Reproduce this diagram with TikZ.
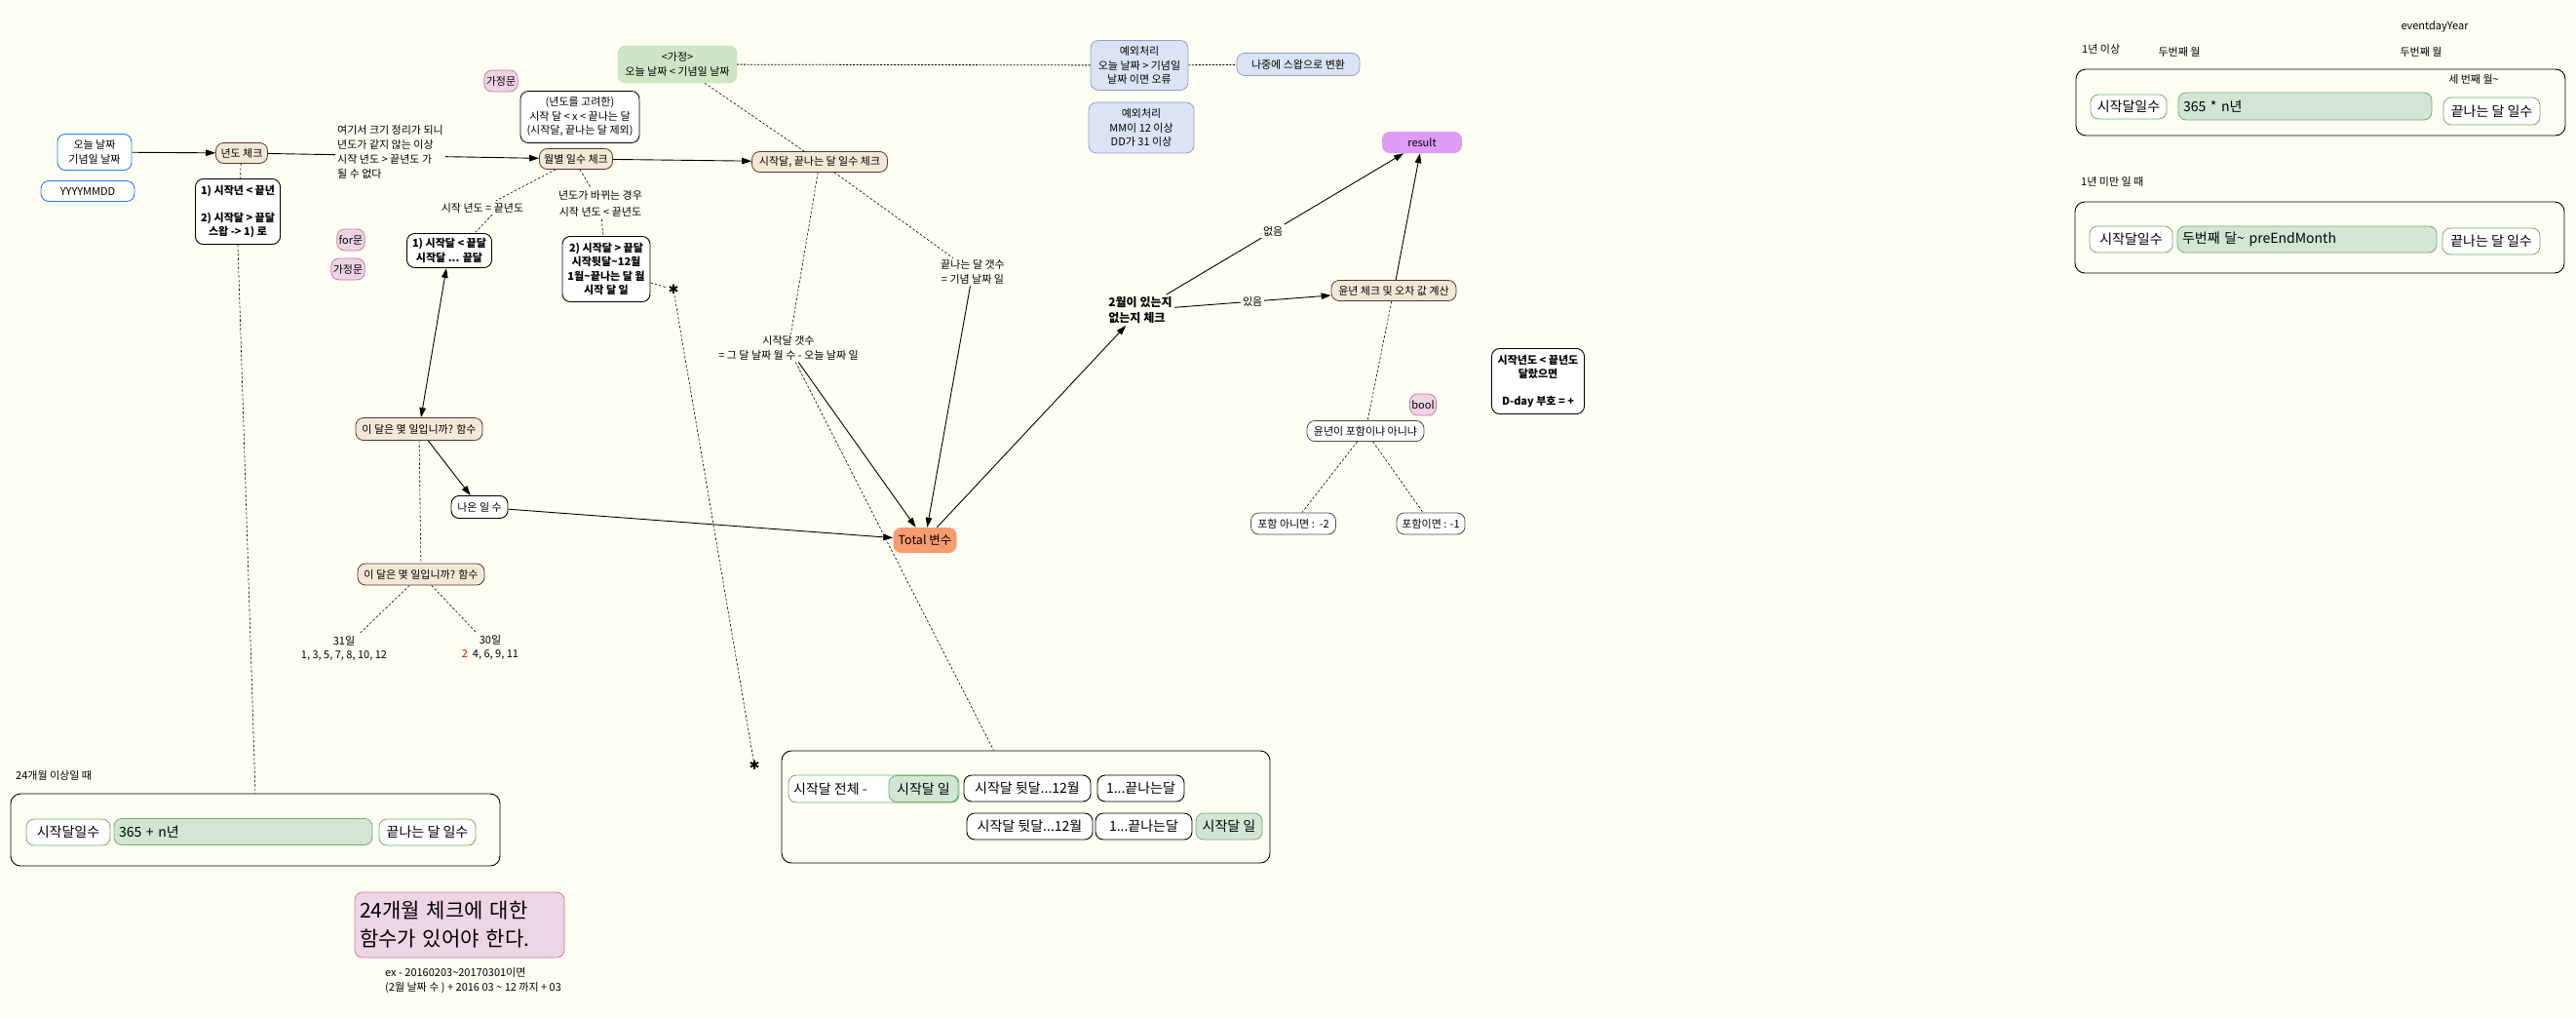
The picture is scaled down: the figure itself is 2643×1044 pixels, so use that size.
\documentclass[tikz,border=0pt]{standalone}
\usepackage{fontspec}
\setmainfont{Noto Sans CJK KR}
\newfontfamily\dejavu{DejaVu Sans}
\usetikzlibrary{arrows.meta,calc}
\pgfdeclarelayer{back}
\pgfdeclarelayer{edges}
\pgfsetlayers{back,edges,main}
\definecolor{bgc}{HTML}{FFFEF2}
\definecolor{beigef}{HTML}{F2E8D6}
\definecolor{beiged}{HTML}{5E3535}
\definecolor{pinkf}{HTML}{EED5E5}
\definecolor{pinkd}{HTML}{CC79A7}
\definecolor{greenf}{HTML}{CFE6C4}
\definecolor{greend}{HTML}{B9D9AB}
\definecolor{ggf}{HTML}{D3E6D6}
\definecolor{ggd}{HTML}{6FAE6F}
\definecolor{bluef}{HTML}{DCE3F4}
\definecolor{blued}{HTML}{8C9ED4}
\definecolor{brightb}{HTML}{2A7DF4}
\definecolor{purp}{HTML}{DF9CF7}
\definecolor{orng}{HTML}{F99B70}
\newcommand\myfs{\fontsize{11}{14.5}\selectfont}
\newcommand\mybig{\fontsize{14}{17}\selectfont}
\newcommand\tl{\textasciitilde{}}
\begin{document}
\begin{tikzpicture}[x=1pt,y=-1pt,
  every node/.style={font=\myfs, inner sep=2pt, align=center},
  beige/.style={draw=beiged, fill=beigef, rounded corners=8pt, line width=0.8pt, minimum height=21pt},
  wbox/.style={draw=black, fill=white, rounded corners=8pt, line width=0.9pt},
  gbox/.style={draw=black!70, fill=white, rounded corners=8pt, line width=0.8pt, minimum height=22pt},
  bluebox/.style={draw=brightb, fill=white, rounded corners=8pt, line width=0.9pt},
  pinkb/.style={draw=pinkd, fill=pinkf, rounded corners=8pt, line width=0.8pt, minimum height=22pt},
  exbox/.style={draw=blued, fill=bluef, rounded corners=8pt, line width=0.8pt},
  gwbox/.style={draw=ggd, fill=white, rounded corners=8pt, line width=0.8pt, font=\mybig, minimum height=27pt},
  gfbox/.style={draw=ggd, fill=ggf, rounded corners=8pt, line width=0.8pt, font=\mybig, minimum height=27pt},
  bigbox/.style={draw=black, rounded corners=10pt, line width=0.9pt},
  boldt/.style={font=\myfs\bfseries},
  lbl/.style={font=\myfs},
  arr/.style={-{Triangle[length=10pt,width=6.5pt]}, line width=0.9pt},
  darr/.style={{Triangle[length=10pt,width=6.5pt]}-{Triangle[length=10pt,width=6.5pt]}, line width=0.9pt},
  dsh/.style={dash pattern=on 2.5pt off 2pt, line width=0.6pt},
  dots/.style={dash pattern=on 2pt off 1.5pt, line width=0.8pt},
  astk/.style={font=\dejavu\fontsize{13}{13}\selectfont, inner sep=1pt}
]
\begin{pgfonlayer}{back}
\path[use as bounding box, fill=bgc] (0,0) rectangle (2643,1044);
\end{pgfonlayer}

% ---------- left part ----------
\node[bluebox, minimum width=76pt, minimum height=37pt] (today) at (97,156) {오늘 날짜\\기념일 날짜};
\node[bluebox, minimum width=96pt, minimum height=21pt] (fmt) at (90,196) {YYYYMMDD};
\node[beige, minimum width=53pt] (yc) at (248,157) {년도 체크};
\node[wbox, boldt, minimum width=87pt, minimum height=67pt] (yrule) at (244,217) {1) 시작년 < 끝년\\[13pt]2) 시작달 > 끝달\\스왑 -> 1) 로};
\node[lbl, anchor=west, align=left, fill=bgc, font=\fontsize{11}{15}\selectfont] (note) at (344,156) {여기서 크기 정리가 되니\\년도가 같지 않는 이상\\시작 년도 > 끝년도 가\\될 수 없다};
\node[pinkb] (p1) at (360,246) {for문};
\node[pinkb] (p2) at (357,276) {가정문};
\node[pinkb] (p3) at (514,83) {가정문};

\node[wbox, minimum width=122pt, minimum height=53pt, line width=0.8pt] (xrange) at (595,120) {(년도를 고려한)\\시작 달 < x < 끝나는 달\\(시작달, 끝나는 달 제외)};
\node[beige, minimum width=75pt] (mc) at (591,163) {월별 일수 체크};
\node[draw=greend, fill=greenf, rounded corners=8pt, minimum width=122pt, minimum height=38pt] (assume) at (695,66) {<가정>\\오늘 날짜 < 기념일 날짜};
\node[beige, minimum width=139pt] (sec) at (841,166) {시작달, 끝나는 달 일수 체크};
\node[exbox, minimum width=100pt, minimum height=51pt] (ex1) at (1169,67) {예외처리\\오늘 날짜 > 기념일\\날짜 이면 오류};
\node[exbox, minimum width=126pt, minimum height=23pt] (later) at (1332,66) {나중에 스왑으로 변환};
\node[exbox, minimum width=108pt, minimum height=52pt] (ex2) at (1171,131) {예외처리\\MM이 12 이상\\DD가 31 이상};

\node[lbl] (leq) at (495,213) {시작 년도 = 끝년도};
\node[lbl] (lchg) at (616,209) {년도가 바뀌는 경우\\[3pt]시작 년도 < 끝년도};
\node[wbox, boldt, minimum width=87pt, minimum height=35pt] (m1) at (461,257) {1) 시작달 < 끝달\\시작달 ... 끝달};
\node[wbox, boldt, minimum width=90pt, minimum height=67pt] (m2) at (622,276) {2) 시작달 > 끝달\\시작뒷달\tl 12월\\1월\tl 끝나는 달 월\\시작 달 일};
\node[astk] (s1) at (691,297) {✱};
\node[astk] (s2) at (774,785) {✱};

\node[lbl] (scnt) at (809,357) {시작달 갯수\\= 그 달 날짜 월 수 - 오늘 날짜 일};
\node[lbl] (ecnt) at (998,279) {끝나는 달 갯수\\= 기념 날짜 일};

\node[beige, minimum width=130pt, minimum height=23pt] (f1) at (430,440) {이 달은 몇 일입니까? 함수};
\node[wbox, minimum width=58pt, minimum height=23pt] (days) at (492,520) {나온 일 수};
\node[beige, minimum width=130pt, minimum height=22pt] (f2) at (432,589) {이 달은 몇 일입니까? 함수};
\node[lbl] (d31) at (353,665) {31일\\1, 3, 5, 7, 8, 10, 12};
\node[lbl] (d30) at (503,664) {30일\\\textcolor{red}{2}\ \ 4, 6, 9, 11};

\node[fill=orng, rounded corners=8pt, minimum width=65pt, minimum height=26pt, font=\fontsize{12.5}{15}\selectfont] (total) at (949,554) {Total 변수};

% ---------- right middle ----------
\node[font=\fontsize{12}{16}\selectfont\bfseries, align=left] (feb) at (1170,318) {2월이 있는지\\없는지 체크};
\node[beige, minimum width=128pt] (leap) at (1430,298) {윤년 체크 및 오차 값 계산};
\node[fill=purp, rounded corners=8pt, minimum width=82pt, minimum height=22pt] (result) at (1459,146) {result};
\node[gbox, minimum width=120pt, minimum height=21pt] (incl) at (1401,442) {윤년이 포함이냐 아니냐};
\node[pinkb] (bool) at (1460,415) {bool};
\node[wbox, boldt, minimum width=95pt, minimum height=67pt] (dday) at (1578,391) {시작년도 < 끝년도\\달랐으면\\[13pt]D-day 부호 = +};
\node[gbox, minimum width=87pt] (nm2) at (1327,537) {포함 아니면 :\ \ -2};
\node[gbox, minimum width=70pt] (nm1) at (1468,537) {포함이면 : -1};

% ---------- bottom left ----------
\node[lbl, anchor=west] (t24) at (14,795) {24개월 이상일 때};
\node[bigbox, minimum width=502pt, minimum height=74pt] (b24) at (262,851) {};
\node[gwbox, minimum width=86pt] (b24a) at (70,853.5) {시작달일수};
\node[gfbox, text width=255pt, inner sep=5pt, align=left] (b24b) at (249.5,853) {365 + n년};
\node[gwbox, minimum width=99pt] (b24c) at (438.5,853.5) {끝나는 달 일수};

\node[pinkb, text width=205pt, inner sep=5pt, align=left, minimum height=67pt, font=\fontsize{21}{29}\selectfont] (need) at (471.5,948.5) {24개월 체크에 대한\\함수가 있어야 한다.};
\node[lbl, anchor=north west, align=left, font=\fontsize{11}{15}\selectfont] (exm) at (393,990) {ex - 20160203\tl 20170301이면\\(2월 날짜 수 ) + 2016 03 \tl\ 12 까지 + 03};

% ---------- bottom middle box ----------
\node[bigbox, minimum width=501pt, minimum height=115pt] (bx) at (1052.5,827.5) {};
\node[gwbox, minimum width=175pt, minimum height=28pt] (r1a) at (896.5,809) {};
\node[anchor=west, font=\mybig] (r1t) at (812,809) {시작달 전체 -};
\node[gfbox, minimum width=71pt] (r1b) at (947.5,809) {시작달 일};
\node[wbox, font=\mybig, minimum width=130pt, minimum height=27pt] (r1c) at (1054,808.5) {시작달 뒷달...12월};
\node[wbox, font=\mybig, minimum width=89pt, minimum height=27pt] (r1d) at (1170.5,808.5) {1...끝나는달};
\node[wbox, font=\mybig, minimum width=129pt, minimum height=27pt] (r2a) at (1056.5,847.5) {시작달 뒷달...12월};
\node[wbox, font=\mybig, minimum width=99pt, minimum height=27pt] (r2b) at (1173.5,847.5) {1...끝나는달};
\node[gfbox, minimum width=68pt] (r2c) at (1261,847.5) {시작달 일};

% ---------- top right ----------
\node[lbl] (ey) at (2498,27) {eventdayYear};
\node[lbl, anchor=west] (y1) at (2134,50) {1년 이상};
\node[lbl] (sm1) at (2236,53) {두번째 월};
\node[lbl] (sm2) at (2484,53) {두번째 월};
\node[bigbox, minimum width=502pt, minimum height=68pt] (bt1) at (2381,105) {};
\node[lbl] (m3) at (2538,81) {세 번째 월\tl};
\node[gwbox, minimum width=78pt, minimum height=25pt] (t1a) at (2184,109.5) {시작달일수};
\node[gfbox, text width=250pt, inner sep=5pt, align=left, minimum height=28pt] (t1b) at (2365,109) {365 * n년};
\node[gwbox, minimum width=99pt, minimum height=28pt] (t1c) at (2556.5,114) {끝나는 달 일수};

\node[lbl, anchor=west] (y2) at (2133,186) {1년 미만 일 때};
\node[bigbox, minimum width=502pt, minimum height=73pt] (bt2) at (2380,243.5) {};
\node[gwbox, minimum width=85pt] (t2a) at (2186.5,245.5) {시작달일수};
\node[gfbox, text width=256pt, inner sep=5pt, align=left] (t2b) at (2367,245.5) {두번째 달\tl\ preEndMonth};
\node[gwbox, minimum width=100pt] (t2c) at (2556,247.5) {끝나는 달 일수};

% ---------- connectors ----------
\begin{pgfonlayer}{edges}
\draw[arr] (today) -- (yc);
\draw[arr] (yc) -- (mc);
\draw[dsh] (yc) -- (yrule);
\draw[dsh] (yrule.south) -- (b24.north);
\draw[dots] (assume) -- (ex1);
\draw[dots] (ex1) -- (later);
\draw[dsh] (assume) -- (sec);
\draw[arr] (mc) -- (sec);
\draw[dsh] (mc) -- (leq);
\draw[dsh] ([xshift=10pt]leq.south) -- ([xshift=26pt]m1.north);
\draw[dsh] ([xshift=4pt]mc.south) -- (lchg);
\draw[dsh] (lchg) -- (m2);
\draw[dsh] (m2) -- (s1);
\draw[dsh] (s1) -- (s2);
\draw[dsh] (sec) -- (scnt);
\draw[arr] (scnt) -- (total);
\draw[dsh] (scnt) -- ([xshift=-33pt]bx.north);
\draw[dsh] (sec) -- (ecnt);
\draw[arr] (ecnt) -- (total);
\draw[darr] (m1) -- (f1);
\draw[arr] (f1) -- (days);
\draw[dsh] (f1) -- (f2);
\draw[arr] (days) -- (total);
\draw[dsh] (f2) -- (d31);
\draw[dsh] (f2) -- (d30);
\draw[arr] (total) -- (feb);
\draw[arr] (feb) -- node[fill=bgc, pos=0.5] (lyes) {있음} (leap);
\draw[arr] (feb) -- node[fill=bgc, pos=0.45] (lno) {없음} (result);
\draw[arr] (leap) -- (result);
\draw[dsh] (leap) -- (incl);
\draw[dsh] (incl) -- (nm2);
\draw[dsh] (incl) -- (nm1);
\end{pgfonlayer}
\end{tikzpicture}
\end{document}
